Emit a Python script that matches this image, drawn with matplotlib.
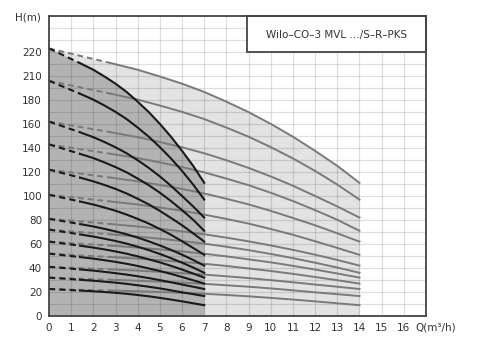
import matplotlib
matplotlib.use("Agg")
import matplotlib.pyplot as plt
from matplotlib.patches import Rectangle

# flow points for one pump (m3/h); two pumps in parallel give twice the flow
q_one = [0, 1.4, 2, 2.5, 3, 3.5, 4, 4.5, 5, 5.5, 6, 6.5, 7]
q_two = [2 * q for q in q_one]

# head curves (m), one per pump size
heads = [
    [223, 210.7, 205.2, 199.6, 193.6, 186.7, 178.6, 169.9, 160.1, 149.4, 137.6, 125.1, 111],
    [196, 185.2, 180.3, 175.4, 170.1, 164.1, 157, 149.4, 140.7, 131.3, 120.9, 109.5, 97],
    [162, 153.1, 149, 145, 140.6, 135.6, 129.8, 123.4, 116.3, 108.5, 100, 91.3, 82],
    [143, 135.1, 131.6, 128, 124.1, 119.7, 114.5, 109, 102.7, 95.8, 88.2, 80.2, 71],
    [122, 115.3, 112.2, 109.2, 105.9, 102.1, 97.7, 93, 87.6, 81.7, 75.6, 68.9, 62],
    [101, 95.4, 92.9, 90.4, 87.7, 84.5, 80.9, 77, 72.5, 67.7, 62.3, 56.7, 51],
    [81, 76.6, 74.6, 72.6, 70.5, 68.1, 65.3, 62.2, 58.8, 55.1, 51.1, 46.7, 42],
    [72, 68, 66.2, 64.4, 62.5, 60.3, 57.7, 54.9, 51.7, 48.2, 44.4, 40.4, 36],
    [62, 58.6, 57, 55.5, 53.8, 51.9, 49.7, 47.2, 44.7, 41.8, 38.7, 35.4, 32],
    [52, 49.1, 47.8, 46.5, 45.1, 43.5, 41.7, 39.6, 37.5, 35.1, 32.5, 29.8, 27],
    [41, 38.8, 37.8, 36.8, 35.7, 34.5, 33.1, 31.6, 29.9, 28.1, 26.2, 24.4, 22.5],
    [32, 30.2, 29.4, 28.6, 27.8, 26.8, 25.6, 24.4, 23, 21.4, 19.7, 18.2, 16.6],
    [22.5, 21.2, 20.6, 20, 19.3, 18.5, 17.5, 16.4, 15.1, 13.7, 12.2, 10.6, 9],
]

y_ticks = [0, 20, 40, 60, 80, 100, 120, 140, 160, 180, 200, 220]
y_labels = ["0", "20", "40", "60", "80", "100", "120", "140", "160", "180", "210", "220"]
x_ticks = list(range(0, 17))
title = "Wilo–CO–3 MVL …/S–R–PKS"

fig = plt.figure(figsize=(4.8, 3.54), dpi=100)
ax = fig.add_axes([49 / 480, 38 / 354, 377 / 480, 300 / 354])

# operating ranges
ax.fill_between(q_two, heads[0], 0, color="#e3e3e3", lw=0, zorder=1)
ax.fill_between(q_one, heads[0], 0, color="#b3b3b3", lw=0, zorder=1)

# grid
for x in range(1, 17):
    ax.axvline(x, color="black", alpha=0.12, lw=0.9, zorder=2)
for y in range(10, 250, 10):
    ax.axhline(y, color="black", alpha=0.12, lw=0.9, zorder=2)

for h in heads:
    # two pumps
    ax.plot(q_two[:2], h[:2], color="#7a7a7a", lw=1.4, ls=(0, (3, 2)), zorder=3)
    ax.plot(q_two[1:], h[1:], color="#7a7a7a", lw=1.4, zorder=3)
    # one pump
    ax.plot(q_one[:2], h[:2], color="#1a1a1a", lw=1.5, ls=(0, (3, 2)), zorder=4)
    ax.plot(q_one[1:], h[1:], color="#1a1a1a", lw=1.5, zorder=4)

ax.set_xlim(0, 17)
ax.set_ylim(0, 250)
ax.set_xticks(x_ticks)
ax.set_yticks(y_ticks)
ax.set_yticklabels(y_labels)
ax.tick_params(length=0, labelsize=7.5, colors="#333333", pad=5)
for s in ax.spines.values():
    s.set_color("#444444")
    s.set_linewidth(1.3)
    s.set_zorder(6)

ax.add_patch(Rectangle((8.92, 219.7), 17 - 8.92, 30.3, facecolor="white",
                       edgecolor="#444444", lw=1.3, zorder=5, clip_on=False))
ax.text(12.96, 234.5, title, ha="center", va="center", fontsize=7.5,
        color="#333333", zorder=6)

fig.text(28 / 480, 1 - 17 / 354, "H(m)", ha="center", va="center",
         fontsize=7.5, color="#333333")
fig.text(436 / 480, 1 - 327 / 354, "Q(m³/h)", ha="center", va="center",
         fontsize=7.5, color="#333333")

fig.savefig("out.png", dpi=100)
